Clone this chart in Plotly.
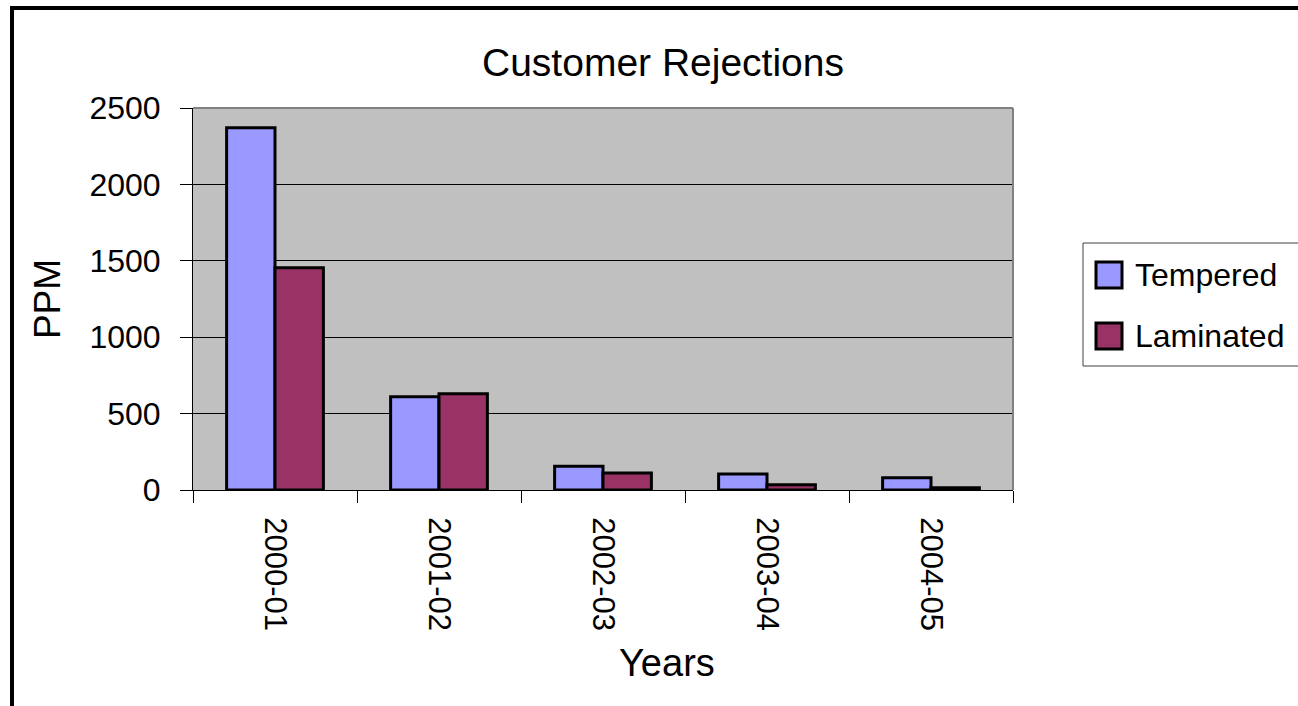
import plotly.graph_objects as go

categories = ["2000-01", "2001-02", "2002-03", "2003-04", "2004-05"]
tempered = [2370, 610, 155, 105, 80]
laminated = [1455, 630, 112, 35, 15]
series_names = ["Tempered", "Laminated"]
colors = ["#9999FF", "#993366"]

W, H = 1298, 706
L, R, T, B = 193, 285, 108, 216
PW, PH = W - L - R, H - T - B

def px(x):
    return (x - L) / PW

def py(y):
    return (H - B - y) / PH

FONT = "Liberation Sans Narrow, Arial Narrow, Liberation Sans, Arial, sans-serif"

fig = go.Figure()
for name, vals, c in zip(series_names, [tempered, laminated], colors):
    fig.add_trace(go.Bar(
        x=categories, y=vals, name=name,
        marker=dict(color=c, line=dict(color="black", width=3)),
        showlegend=False,
    ))

shapes = [
    # outer chart border
    dict(type="rect", xref="paper", yref="paper", x0=px(12), x1=px(1400), y0=py(900), y1=py(8),
         line=dict(color="black", width=4), fillcolor="rgba(0,0,0,0)", layer="above"),
    # plot area top / right gray edges
    dict(type="line", xref="paper", yref="paper", x0=0, x1=1, y0=1, y1=1,
         line=dict(color="#808080", width=2), layer="above"),
    dict(type="line", xref="paper", yref="paper", x0=1, x1=1, y0=0, y1=1,
         line=dict(color="#808080", width=2), layer="above"),
    # legend box
    dict(type="rect", xref="paper", yref="paper", x0=px(1083), x1=px(1400), y0=py(366), y1=py(243),
         line=dict(color="#404040", width=1), fillcolor="white", layer="above"),
]
annotations = [
    dict(text="Years", xref="paper", yref="paper", x=px(667), y=py(663),
         xanchor="center", yanchor="middle", showarrow=False,
         font=dict(family=FONT, size=38, color="black")),
]
for i, (name, c) in enumerate(zip(series_names, colors)):
    top = 261 + i * 61
    shapes.append(dict(type="rect", xref="paper", yref="paper", x0=px(1096), x1=px(1122),
                       y0=py(top + 27), y1=py(top + 1), fillcolor=c,
                       line=dict(color="black", width=3), layer="above"))
    annotations.append(dict(text=name, xref="paper", yref="paper", x=px(1133), y=py(top + 14),
                            xanchor="left", yanchor="middle", showarrow=False,
                            font=dict(family=FONT, size=32, color="black")))

fig.update_layout(
    width=W, height=H,
    margin=dict(l=L, r=R, t=T, b=B, pad=0),
    paper_bgcolor="white", plot_bgcolor="#C0C0C0",
    barmode="group", bargap=0.41, bargroupgap=0,
    font=dict(family=FONT, color="black"),
    title=dict(text="Customer Rejections", x=663 / W, xref="container", xanchor="center",
               y=1 - 62 / H, yref="container", yanchor="middle",
               font=dict(family=FONT, size=39, color="black")),
    xaxis=dict(type="category", tickson="boundaries", ticks="outside", ticklen=12,
               tickcolor="black", tickwidth=1, tickangle=90, tickfont=dict(size=31),
               showline=True, linecolor="black", linewidth=1, showgrid=False,
               ticklabelstandoff=20),
    yaxis=dict(range=[0, 2500], dtick=500, ticks="outside", ticklen=12, tickcolor="black",
               tickwidth=1, tickfont=dict(size=32), showline=True, linecolor="black",
               linewidth=1, showgrid=True, gridcolor="black", gridwidth=1, zeroline=False,
               ticklabelstandoff=13,
               title=dict(text="PPM", font=dict(size=37), standoff=17)),
    shapes=shapes, annotations=annotations,
)

fig.write_html("out.html")
